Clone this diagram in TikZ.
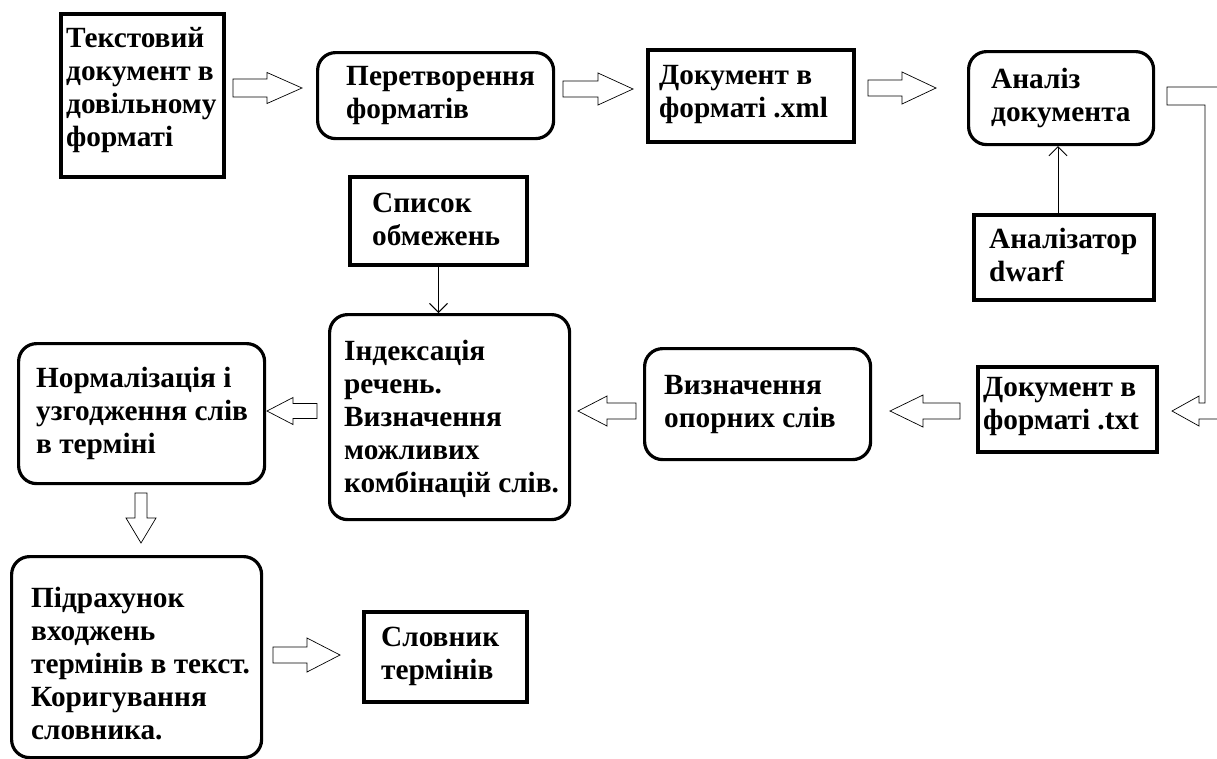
\documentclass[tikz,border=0pt]{standalone}
\usepackage{fontspec}
\setmainfont{Liberation Serif}
\usetikzlibrary{arrows.meta,calc}
\tikzset{
  box/.style={draw, line width=4pt, anchor=north west, inner sep=0pt},
  sqbox/.style={box},
  rbox/.style={box, line width=3.2pt, rounded corners=18pt},
  txt/.style={anchor=west, inner sep=0pt, align=left,
    font=\fontsize{29.3}{33}\selectfont\bfseries},
  harrow/.style={draw, line width=0.7pt, fill=white, line join=miter},
  thinarrow/.style={draw, line width=0.9pt, -{Straight Barb[length=9pt,width=18pt]}},
}
% #1 back, #2 tip, #3 head length, #4 shaft half width, #5 head half width
\newcommand\blockR[5]{\draw[harrow] let \p1=(#1), \p2=(#2) in
  (\x1,\y1+#4) -- (\x2-#3,\y1+#4) -- (\x2-#3,\y1+#5) -- (\x2,\y1) --
  (\x2-#3,\y1-#5) -- (\x2-#3,\y1-#4) -- (\x1,\y1-#4) -- cycle;}
\newcommand\blockL[5]{\draw[harrow] let \p1=(#1), \p2=(#2) in
  (\x1,\y1+#4) -- (\x2+#3,\y1+#4) -- (\x2+#3,\y1+#5) -- (\x2,\y1) --
  (\x2+#3,\y1-#5) -- (\x2+#3,\y1-#4) -- (\x1,\y1-#4) -- cycle;}
\newcommand\blockD[5]{\draw[harrow] let \p1=(#1), \p2=(#2) in
  (\x1-#4,\y1) -- (\x1-#4,\y2+#3) -- (\x1-#5,\y2+#3) -- (\x1,\y2) --
  (\x1+#5,\y2+#3) -- (\x1+#4,\y2+#3) -- (\x1+#4,\y1) -- cycle;}
\begin{document}
\begin{tikzpicture}[x=1pt,y=-1pt]
\useasboundingbox[fill=white] (0,0) rectangle (1217,758);

% boxes
\node[sqbox, minimum width=163pt, minimum height=163pt] (b1) at (59,12) {};
\node[rbox,  minimum width=236pt, minimum height=86pt]  (b2) at (316,51) {};
\node[sqbox, minimum width=206pt, minimum height=92pt]  (b3) at (646,48) {};
\node[rbox,  minimum width=185pt, minimum height=93pt]  (b4) at (967,50) {};
\node[sqbox, minimum width=180pt, minimum height=85pt]  (b5) at (972,213) {};
\node[sqbox, minimum width=179pt, minimum height=85pt]  (b6) at (976,365) {};
\node[rbox,  minimum width=226pt, minimum height=111pt] (b7) at (643,347) {};
\node[sqbox, minimum width=177pt, minimum height=88pt]  (b8) at (348,175) {};
\node[rbox,  minimum width=240pt, minimum height=205pt] (b9) at (328,313) {};
\node[rbox,  minimum width=246pt, minimum height=140pt] (b10) at (17,342) {};
\node[rbox,  minimum width=250pt, minimum height=201pt] (b11) at (10,555) {};
\node[sqbox, minimum width=163pt, minimum height=90pt]  (b12) at (362,610) {};

% texts
\node[txt] (t1) at ([xshift=7pt,yshift=5pt]b1.west) {Текстовий\\документ в\\довільному\\форматі};
\node[txt] (t2) at ([xshift=30pt]b2.west) {Перетворення\\форматів};
\node[txt] (t3) at ([xshift=13pt,yshift=1.5pt]b3.west) {Документ в\\форматі .xml};
\node[txt] (t4) at ([xshift=24pt]b4.west) {Аналіз\\документа};
\node[txt] (t5) at ([xshift=17pt,yshift=3pt]b5.west) {Аналізатор\\dwarf};
\node[txt] (t6) at ([xshift=7pt,yshift=3pt]b6.west) {Документ в\\форматі .txt};
\node[txt] (t7) at ([xshift=21pt]b7.west) {Визначення\\опорних слів};
\node[txt] (t8) at ([xshift=24pt,yshift=2pt]b8.west) {Список\\обмежень};
\node[txt] (t9) at ([xshift=16pt,yshift=-2pt]b9.west) {Індексація\\речень.\\Визначення\\можливих\\комбінацій слів.};
\node[txt] (t10) at ([xshift=19pt]b10.west) {Нормалізація і\\узгодження слів\\в терміні};
\node[txt] (t11) at ([xshift=21pt,yshift=-6pt]b11.west) {Підрахунок\\входжень\\термінів в текст.\\Коригування\\словника.};
\node[txt] (t12) at ([xshift=19pt,yshift=1pt]b12.west) {Словник\\термінів};

% block arrow end points
\coordinate (a1s) at (233,88);  \coordinate (a1e) at (302,88);
\coordinate (a2s) at (563,89);  \coordinate (a2e) at (633,89);
\coordinate (a3s) at (868,88);  \coordinate (a3e) at (936,88);
\coordinate (a4s) at (960,411); \coordinate (a4e) at (890,411);
\coordinate (a5s) at (636,411); \coordinate (a5e) at (578,411);
\coordinate (a6s) at (317,411); \coordinate (a6e) at (267,411);
\coordinate (a7s) at (141,493); \coordinate (a7e) at (141,543);
\coordinate (a8s) at (273,655); \coordinate (a8e) at (340,655);

\blockR{a1s}{a1e}{35pt}{9pt}{15.5pt}
\blockR{a2s}{a2e}{35pt}{8pt}{16pt}
\blockR{a3s}{a3e}{34pt}{8pt}{16pt}
\blockL{a4s}{a4e}{33pt}{8pt}{16pt}
\blockL{a5s}{a5e}{29pt}{8pt}{15pt}
\blockL{a6s}{a6e}{26pt}{7.5pt}{13.5pt}
\blockD{a7s}{a7e}{25pt}{6pt}{15pt}
\blockR{a8s}{a8e}{33pt}{8pt}{17pt}

% bent block arrow from analysis to .txt document
\coordinate (r1) at (1167,87);
\coordinate (r2) at (1172,411);
\draw[harrow] (r1) -- (1230,87) -- (1230,419) -- (1199,419) -- (1199,426) -- (r2)
  -- (1199,396) -- (1199,403) -- (1205,403) -- (1205,105) -- (1167,105) -- cycle;

% thin arrows
\coordinate (vx) at (1058,0);
\draw[thinarrow] (b5.north -| vx) -- (b4.south -| vx);
\draw[thinarrow] (b8.south) -- (b8.south |- b9.north);
\end{tikzpicture}
\end{document}
